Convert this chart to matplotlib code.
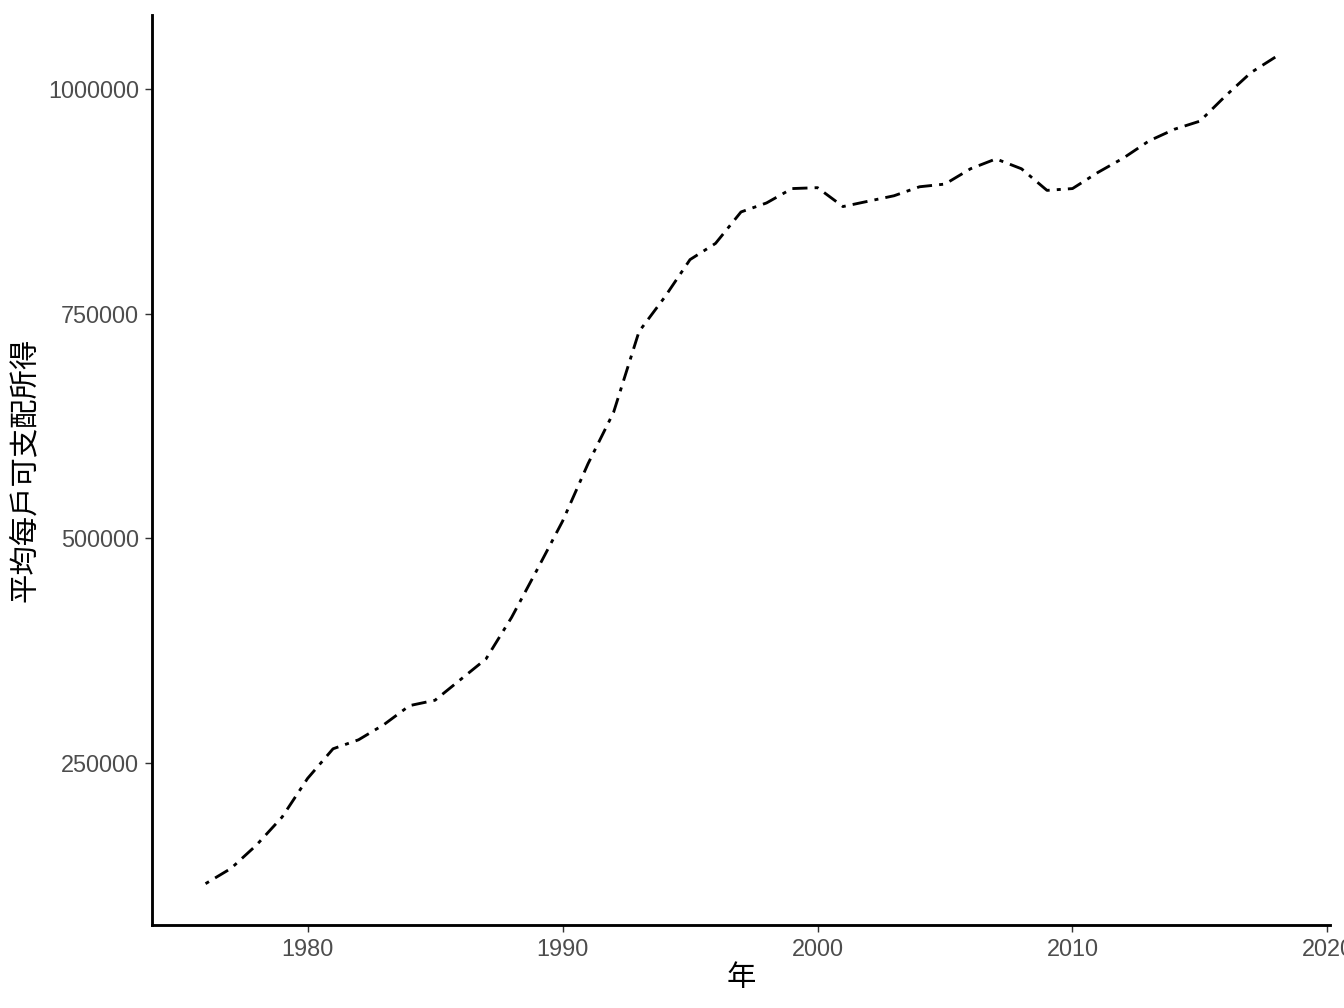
import numpy as np
import matplotlib
matplotlib.use('Agg')
import matplotlib.pyplot as plt


# ---------------------------------------------------
# DATOS
# ---------------------------------------------------
years = list(range(1976, 2019))
income = [116000, 133000, 159000, 190000, 233000, 266000, 276000, 293000,
          314000, 320000, 343000, 366000, 412000, 465000, 519000, 583000,
          640000, 730000, 768000, 810000, 828000, 863000, 873000, 889000,
          890000, 869000, 875000, 881000, 891000, 894000, 911000, 922000,
          911000, 887000, 889000, 907000, 923000, 942000, 955000, 964000,
          992000, 1018000, 1036000]
x_ticks = [1980, 1990, 2000, 2010, 2020]
y_ticks = [250000, 500000, 750000, 1000000]
x_label = '年'
y_label = '平均每戶可支配所得'
# ---------------------------------------------------

FONTS = ['Liberation Sans', 'Noto Sans CJK TC', 'DejaVu Sans']
plt.rcParams['font.family'] = FONTS


def main():
    fig = plt.figure(figsize=(7, 5.25), dpi=192)
    ax = fig.add_axes([0.1131, 0.0823, 0.8765, 0.9028])

    # dot-dash como el "dotdash" de R
    ax.plot(years, income, color='black', linewidth=1.07,
            linestyle=(0, (1.4, 2.5, 5.3, 2.5)))

    x_rng = max(years) - min(years)
    ax.set_xlim(min(years) - 0.05 * x_rng, max(years) + 0.05 * x_rng)
    y_rng = max(income) - min(income)
    ax.set_ylim(min(income) - 0.05 * y_rng, max(income) + 0.05 * y_rng)

    ax.set_xticks(x_ticks)
    ax.set_yticks(y_ticks)
    ax.set_yticklabels([str(v) for v in y_ticks])

    for side in ['top', 'right']:
        ax.spines[side].set_visible(False)
    for side in ['left', 'bottom']:
        ax.spines[side].set_linewidth(1.07)
        ax.spines[side].set_color('black')

    ax.tick_params(axis='both', length=2.75, width=0.53, color='#333333',
                   labelcolor='#4D4D4D', labelsize=8.8, pad=2.2)
    ax.set_xlabel(x_label, fontsize=11, color='black', labelpad=1.2)
    ax.set_ylabel(y_label, fontsize=11, color='black', labelpad=3.5)

    fig.savefig('out.png', dpi=192, facecolor='white')


if __name__ == '__main__':
    main()
